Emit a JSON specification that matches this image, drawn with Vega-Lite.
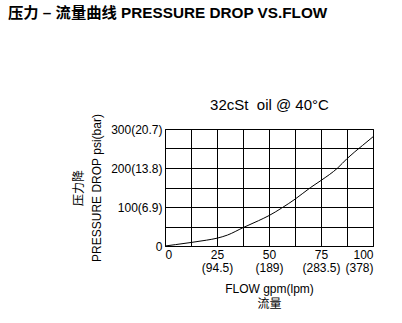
{
  "$schema": "https://vega.github.io/schema/vega-lite/v6.json",
  "width": 208,
  "height": 117,
  "autosize": {"type": "none"},
  "padding": {"left": 165, "top": 129, "right": 29, "bottom": 77},
  "background": "white",
  "title": {
    "text": "压力 – 流量曲线 PRESSURE DROP VS.FLOW",
    "anchor": "start",
    "frame": "group",
    "dx": -157,
    "offset": 76,
    "font": "Liberation Sans, Noto Sans CJK SC",
    "fontSize": 15.3,
    "fontWeight": "bold",
    "color": "black"
  },
  "config": {
    "view": {"stroke": "black", "strokeWidth": 1},
    "font": "Liberation Sans, Noto Sans CJK SC",
    "axis": {
      "labelFont": "Liberation Sans, Noto Sans CJK SC",
      "titleFont": "Liberation Sans, Noto Sans CJK SC",
      "labelColor": "black",
      "titleColor": "black",
      "labelFontSize": 12,
      "titleFontSize": 12,
      "titleFontWeight": "normal",
      "gridColor": "black",
      "gridOpacity": 1,
      "gridWidth": 1,
      "ticks": false,
      "domain": false
    }
  },
  "data": {
    "values": [
      {"flow": 0, "psi": 0},
      {"flow": 5, "psi": 3.5},
      {"flow": 12.5, "psi": 9},
      {"flow": 20, "psi": 15},
      {"flow": 25, "psi": 20},
      {"flow": 30, "psi": 28},
      {"flow": 37.5, "psi": 47},
      {"flow": 45, "psi": 65},
      {"flow": 50, "psi": 78},
      {"flow": 56, "psi": 97},
      {"flow": 62.5, "psi": 120},
      {"flow": 70, "psi": 150},
      {"flow": 75, "psi": 168},
      {"flow": 83, "psi": 200},
      {"flow": 87.5, "psi": 224},
      {"flow": 95, "psi": 258},
      {"flow": 100, "psi": 280}
    ]
  },
  "layer": [
    {
      "mark": {"type": "line", "color": "black", "strokeWidth": 1, "interpolate": "monotone"},
      "encoding": {
        "x": {
          "field": "flow", "type": "quantitative",
          "scale": {"domain": [0, 100], "nice": false},
          "axis": {
            "values": [0, 12.5, 25, 37.5, 50, 62.5, 75, 87.5, 100],
            "labelExpr": "datum.value == 0 ? '0' : datum.value == 25 ? ['25', '(94.5)'] : datum.value == 50 ? ['50', '(189)'] : datum.value == 75 ? ['75', '(283.5)'] : datum.value == 100 ? ['100', '(378)'] : ''",
            "labelPadding": 3,
            "labelLineHeight": 13,
            "title": ["FLOW gpm(lpm)", "流量"],
            "titleLineHeight": 15,
            "titlePadding": 10,
            "labelOverlap": false
          }
        },
        "y": {
          "field": "psi", "type": "quantitative",
          "scale": {"domain": [0, 300], "nice": false},
          "axis": {
            "values": [0, 50, 100, 150, 200, 250, 300],
            "labelExpr": "datum.value == 0 ? '0' : datum.value == 100 ? '100(6.9)' : datum.value == 200 ? '200(13.8)' : datum.value == 300 ? '300(20.7)' : ''",
            "labelPadding": 3,
            "labelOverlap": false,
            "title": ["压力降", "PRESSURE DROP psi(bar)"],
            "titleLineHeight": 18,
            "titlePadding": 7
          }
        }
      }
    },
    {
      "mark": {"type": "rule", "opacity": 0},
      "encoding": {
        "x": {
          "field": "flow", "type": "quantitative",
          "scale": {"domain": [0, 100], "nice": false},
          "axis": {
            "orient": "top",
            "labels": false,
            "grid": false,
            "title": "32cSt\u00a0\u00a0oil @ 40°C",
            "titleFontSize": 15,
            "titlePadding": 17
          }
        }
      }
    }
  ],
  "resolve": {"axis": {"x": "independent"}}
}
